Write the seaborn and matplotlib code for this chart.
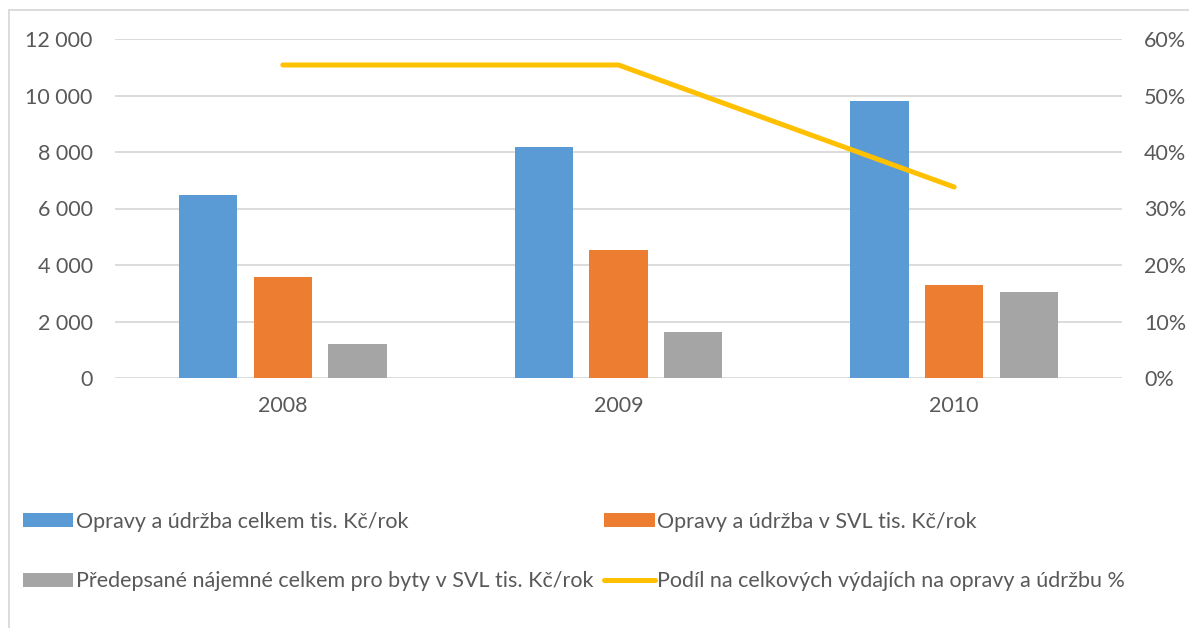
import numpy as np
import pandas as pd
import matplotlib
matplotlib.use("Agg")
import matplotlib.pyplot as plt
import seaborn as sns
from matplotlib.lines import Line2D
from matplotlib.ticker import FuncFormatter, MultipleLocator

# Data
years = ["2008", "2009", "2010"]
opravy_celkem = [6480, 8180, 9800]
opravy_svl = [3580, 4530, 3300]
najemne_svl = [1200, 1630, 3040]
podil = [0.554, 0.554, 0.338]

serie_names = [
    "Opravy a údržba celkem tis. Kč/rok",
    "Opravy a údržba v SVL tis. Kč/rok",
    "Předepsané nájemné celkem pro byty v SVL tis. Kč/rok",
]
line_name = "Podíl na celkových výdajích na opravy a údržbu %"
colors = ["#5B9BD5", "#ED7D31", "#A5A5A5"]
line_color = "#FFC000"
text_color = "#595959"

df = pd.DataFrame({
    "rok": years * 3,
    "serie": [serie_names[0]] * 3 + [serie_names[1]] * 3 + [serie_names[2]] * 3,
    "hodnota": opravy_celkem + opravy_svl + najemne_svl,
})

sns.set_style("white")
plt.rcParams["font.family"] = ["Lato", "DejaVu Sans"]
fs = 15.5

fig = plt.figure(figsize=(11.89, 6.28), dpi=100)
ax = fig.add_axes([115 / 1189, 1 - 378 / 628, (1122 - 115) / 1189, (378 - 39) / 628])

sns.barplot(data=df, x="rok", y="hodnota", hue="serie", hue_order=serie_names,
            palette=colors, saturation=1, width=0.667, gap=0.22,
            linewidth=0, ax=ax)
handles, labels = ax.get_legend_handles_labels()
ax.get_legend().remove()

ax.set_ylim(0, 12000)
ax.set_xlim(-0.5, 2.5)
ax.yaxis.set_major_locator(MultipleLocator(2000))
ax.yaxis.set_major_formatter(FuncFormatter(lambda v, p: f"{v:,.0f}".replace(",", " ")))
ax.grid(axis="y", color="#d9d9d9", linewidth=1.3)
ax.set_axisbelow(True)
ax.set_xlabel("")
ax.set_ylabel("")
for s in ax.spines.values():
    s.set_visible(False)
ax.tick_params(axis="y", length=0, pad=16, labelsize=fs, labelcolor=text_color)
ax.tick_params(axis="x", length=0, pad=13, labelsize=fs, labelcolor=text_color)

ax2 = ax.twinx()
sns.lineplot(x=np.arange(len(years)), y=podil, color=line_color, linewidth=3.6,
             solid_capstyle="round", label=line_name, ax=ax2)
h2, l2 = ax2.get_legend_handles_labels()
ax2.get_legend().remove()
ax2.set_ylim(0, 0.6)
ax2.yaxis.set_major_locator(MultipleLocator(0.1))
ax2.yaxis.set_major_formatter(FuncFormatter(lambda v, p: f"{v * 100:.0f}%"))
for s in ax2.spines.values():
    s.set_visible(False)
ax2.tick_params(axis="y", length=0, pad=16, labelsize=fs, labelcolor=text_color)
ax2.set_ylabel("")

# Legend: column 1 = blue, gray; column 2 = orange, line
leg_handles = [handles[0], handles[2], handles[1], h2[0]]
leg_labels = [labels[0], labels[2], labels[1], l2[0]]
leg = fig.legend(leg_handles, leg_labels, loc="upper left",
                 bbox_to_anchor=(14 / 1189, 1 - 503 / 628), ncol=2, frameon=False,
                 fontsize=fs, handlelength=2.35, handleheight=0.62, handletextpad=0.12,
                 columnspacing=0.5, labelspacing=1.85, borderaxespad=0)
for t in leg.get_texts():
    t.set_color(text_color)
for h in leg.legend_handles:
    if isinstance(h, Line2D):
        h.set_solid_capstyle("round")

# Outer frame lines (top and left)
fig.add_artist(Line2D([9 / 1189, 1], [1 - 10 / 628, 1 - 10 / 628],
                      transform=fig.transFigure, color="#d9d9d9", linewidth=1.3))
fig.add_artist(Line2D([9 / 1189, 9 / 1189], [0, 1 - 10 / 628],
                      transform=fig.transFigure, color="#d9d9d9", linewidth=1.3))

fig.savefig("out.png", dpi=100)
